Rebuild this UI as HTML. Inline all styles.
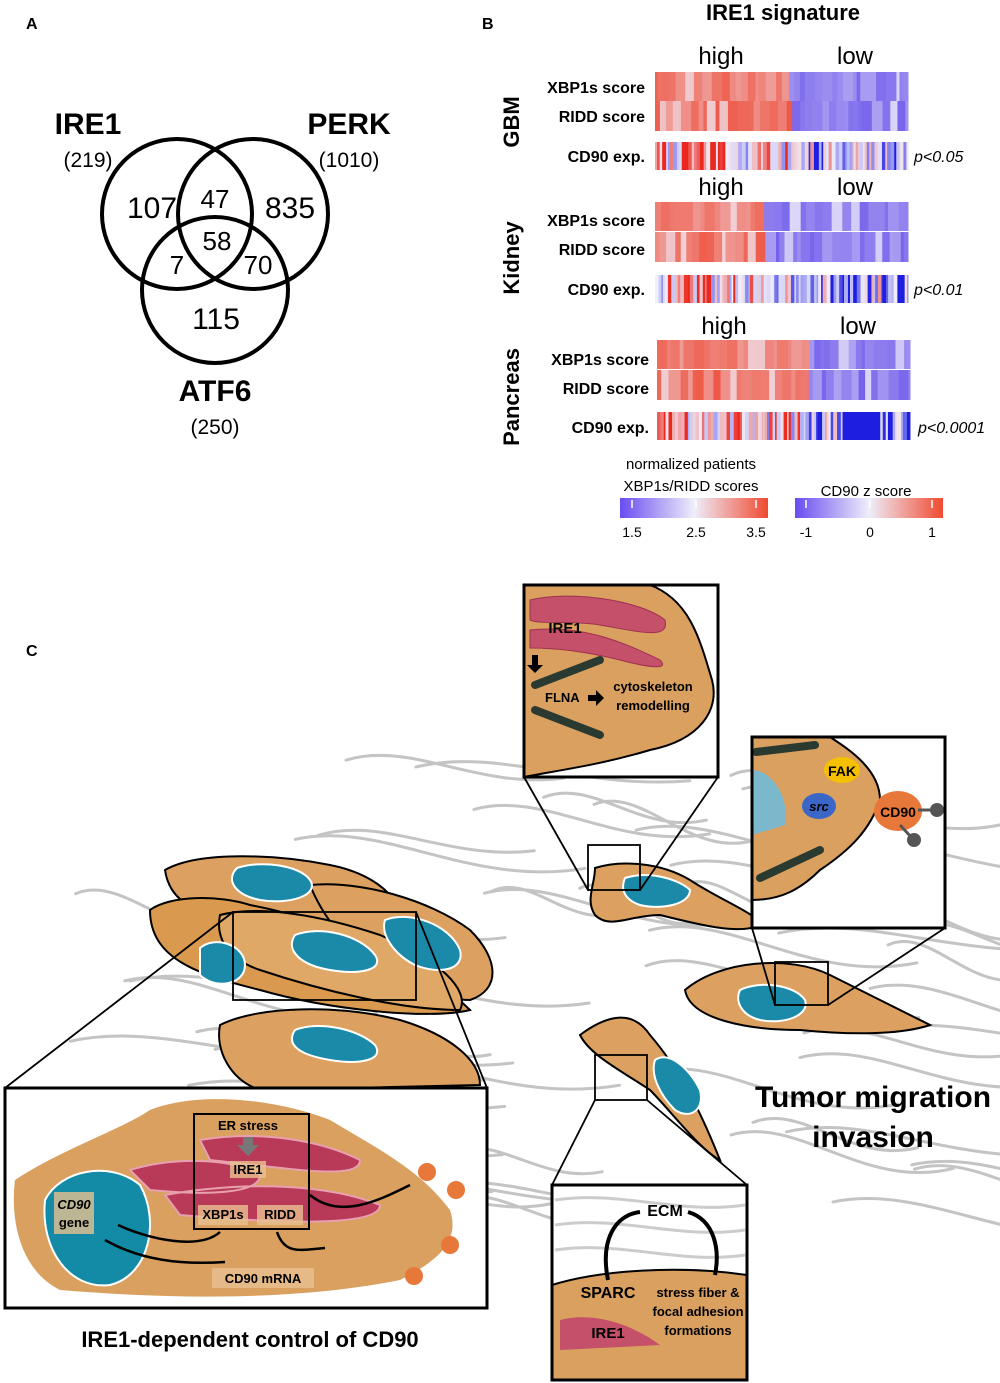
<!DOCTYPE html>
<html><head><meta charset="utf-8"><style>
html,body{margin:0;padding:0;background:#fff}
svg{display:block}
text{font-family:"Liberation Sans",sans-serif}
</style></head><body>
<svg id="s" width="1000" height="1383" viewBox="0 0 1000 1383" xmlns="http://www.w3.org/2000/svg">
<defs>
<linearGradient id="g1" x1="0" x2="1"><stop offset="0" stop-color="#6a4cf0"/><stop offset="0.5" stop-color="#eeeefa"/><stop offset="1" stop-color="#f04a30"/></linearGradient>
</defs>
<g id="fib" stroke="#c4c4c4" stroke-width="3" fill="none" stroke-linecap="round"></g>
<!-- Panel A -->
<text x="26" y="29" font-size="16" font-weight="bold">A</text>
<g fill="none" stroke="#000" stroke-width="4">
<circle cx="177" cy="214" r="75"/><circle cx="253" cy="214" r="75"/><circle cx="215" cy="290" r="73"/>
</g>
<g font-size="30" text-anchor="middle">
<text x="88" y="134" font-weight="bold">IRE1</text>
<text x="349" y="134" font-weight="bold">PERK</text>
<text x="215" y="401" font-weight="bold">ATF6</text>
<text x="152" y="218">107</text><text x="290" y="218">835</text><text x="216" y="329">115</text>
<text x="215" y="208" font-size="26">47</text><text x="217" y="250" font-size="26">58</text>
<text x="177" y="274" font-size="26">7</text><text x="258" y="274" font-size="26">70</text>
</g>
<g font-size="21" text-anchor="middle">
<text x="88" y="167">(219)</text><text x="349" y="167">(1010)</text><text x="215" y="434">(250)</text>
</g>
<!-- Panel B -->
<text x="482" y="29" font-size="16" font-weight="bold">B</text>
<text x="783" y="20" font-size="22" font-weight="bold" text-anchor="middle">IRE1 signature</text>
<g id="hm"></g>
<g font-size="24" text-anchor="middle">
<text x="721" y="64">high</text><text x="855" y="64">low</text>
<text x="721" y="195">high</text><text x="855" y="195">low</text>
<text x="724" y="334">high</text><text x="858" y="334">low</text>
</g>
<g font-size="16" font-weight="bold" text-anchor="end">
<text x="645" y="93">XBP1s score</text><text x="645" y="122">RIDD score</text><text x="645" y="162">CD90 exp.</text>
<text x="645" y="226">XBP1s score</text><text x="645" y="255">RIDD score</text><text x="645" y="295">CD90 exp.</text>
<text x="649" y="365">XBP1s score</text><text x="649" y="394">RIDD score</text><text x="649" y="433">CD90 exp.</text>
</g>
<g font-size="22" font-weight="bold" text-anchor="middle">
<text transform="translate(519,122) rotate(-90)">GBM</text>
<text transform="translate(519,258) rotate(-90)">Kidney</text>
<text transform="translate(519,397) rotate(-90)">Pancreas</text>
</g>
<g font-size="16" font-style="italic">
<text x="914" y="162">p&lt;0.05</text><text x="914" y="295">p&lt;0.01</text><text x="918" y="433">p&lt;0.0001</text>
</g>
<g font-size="15" text-anchor="middle">
<text x="691" y="469">normalized patients</text><text x="691" y="491">XBP1s/RIDD scores</text>
<text x="866" y="496">CD90 z score</text>
<text x="632" y="537" font-size="14">1.5</text><text x="696" y="537" font-size="14">2.5</text><text x="756" y="537" font-size="14">3.5</text>
<text x="806" y="537" font-size="14">-1</text><text x="870" y="537" font-size="14">0</text><text x="932" y="537" font-size="14">1</text>
</g>
<rect x="620" y="498" width="148" height="20" fill="url(#g1)"/>
<rect x="795" y="498" width="148" height="20" fill="url(#g1)"/>
<g stroke="#fff" stroke-width="1.5">
<line x1="632" y1="500" x2="632" y2="508"/><line x1="696" y1="500" x2="696" y2="508"/><line x1="756" y1="500" x2="756" y2="508"/>
<line x1="806" y1="500" x2="806" y2="508"/><line x1="870" y1="500" x2="870" y2="508"/><line x1="932" y1="500" x2="932" y2="508"/>
</g>
<!-- Panel C -->
<text x="26" y="656" font-size="16" font-weight="bold">C</text>
<g id="cells" stroke="#000" stroke-width="2">
<path d="M165,870 C200,850 280,855 330,865 C380,875 400,900 410,930 L250,920 C200,915 170,905 165,870Z" fill="#dca160"/>
<path d="M150,910 C170,895 220,895 250,905 C330,920 420,960 470,1010 C430,1020 330,1010 260,990 C200,975 150,960 150,910Z" fill="#d9994f"/>
<path d="M310,885 C360,880 430,900 470,930 C500,960 500,990 470,1000 C420,1000 340,960 310,885Z" fill="#dca160"/>
<path d="M220,915 C260,905 320,915 380,935 C440,960 470,990 460,1010 C400,1010 320,990 260,970 C230,960 215,940 220,915Z" fill="#e0a866"/>
<path d="M220,1025 C260,1005 340,1005 400,1020 C450,1035 480,1060 480,1085 L260,1090 C230,1080 215,1050 220,1025Z" fill="#dca160"/>
<path d="M595,868 C620,860 660,862 690,880 C720,900 760,915 760,925 C740,935 700,925 660,915 C630,915 610,930 595,915 C585,900 595,885 595,868Z" fill="#dca160"/>
<path d="M685,990 C720,960 790,955 830,975 C860,990 900,1010 930,1025 C900,1035 850,1035 800,1030 C750,1030 690,1020 685,990Z" fill="#dca160"/>
<path d="M580,1035 C600,1020 630,1005 650,1035 C680,1070 700,1110 720,1160 C700,1150 670,1110 650,1090 C620,1070 590,1055 580,1035Z" fill="#dca160"/>
</g>
<g fill="#1a8aa8" stroke="#fff" stroke-width="2">
<path d="M237,868 C260,860 300,865 310,880 C320,895 290,905 260,900 C235,895 225,880 237,868Z"/>
<path d="M200,948 C215,935 245,945 245,965 C245,985 215,990 200,975Z"/>
<path d="M295,935 C320,925 360,935 375,955 C385,970 360,975 330,970 C300,965 285,950 295,935Z"/>
<path d="M385,920 C410,910 450,925 460,950 C465,970 440,975 415,965 C395,955 380,935 385,920Z"/>
<path d="M295,1030 C320,1020 360,1030 375,1045 C385,1060 360,1065 330,1060 C300,1055 285,1045 295,1030Z"/>
<path d="M625,878 C650,870 680,880 690,890 C690,905 660,910 640,905 C625,900 620,890 625,878Z"/>
<path d="M740,990 C760,980 795,985 805,1000 C810,1015 785,1025 760,1020 C740,1015 735,1000 740,990Z"/>
<path d="M655,1060 C670,1050 690,1070 700,1090 C705,1110 690,1120 675,1110 C660,1095 650,1075 655,1060Z"/>
</g>
<g fill="none" stroke="#000" stroke-width="1.8">
<rect x="233" y="912" width="183" height="88"/><rect x="588" y="845" width="52" height="45"/>
<rect x="775" y="962" width="53" height="43"/><rect x="595" y="1055" width="52" height="45"/>
<line x1="233" y1="912" x2="5" y2="1088"/><line x1="416" y1="912" x2="487" y2="1088"/>
<line x1="588" y1="890" x2="524" y2="777"/><line x1="640" y1="890" x2="718" y2="777"/>
<line x1="775" y1="1005" x2="752" y2="928"/><line x1="828" y1="1005" x2="945" y2="928"/>
<line x1="595" y1="1100" x2="552" y2="1185"/><line x1="647" y1="1100" x2="747" y2="1185"/>
</g>
<rect x="524" y="585" width="194" height="192" fill="#fff"/>
<path d="M524,585 L650,585 C690,600 700,640 712,680 C720,710 700,740 650,750 C600,765 560,770 524,777Z" fill="#d9a060" stroke="#000" stroke-width="2"/>
<path d="M530,600 C570,590 640,600 665,620 C670,640 640,632 600,625 C570,620 540,625 530,620Z" fill="#c4506a" stroke="#a03050"/>
<path d="M530,630 C580,625 620,640 660,660 C670,670 650,668 620,660 C580,650 550,648 530,648Z" fill="#c4506a" stroke="#a03050"/>
<g stroke="#2a3a30" stroke-width="8" stroke-linecap="round"><line x1="535" y1="685" x2="600" y2="660"/><line x1="535" y1="710" x2="600" y2="735"/></g>
<text x="565" y="633" font-size="15" font-weight="bold" text-anchor="middle">IRE1</text>
<text x="545" y="702" font-size="13" font-weight="bold">FLNA</text>
<text x="653" y="691" font-size="13" font-weight="bold" text-anchor="middle">cytoskeleton</text>
<text x="653" y="710" font-size="13" font-weight="bold" text-anchor="middle">remodelling</text>
<path d="M588,695 h8 v-5 l8,8 l-8,8 v-5 h-8z M532,655 v10 h-5 l8,8 l8,-8 h-5 v-10z" fill="#000"/>
<rect x="524" y="585" width="194" height="192" fill="none" stroke="#000" stroke-width="3"/>
<rect x="752" y="737" width="193" height="191" fill="#fff"/>
<path d="M752,737 L830,737 C850,750 880,770 880,800 C870,830 850,850 820,870 C800,890 780,900 752,900Z" fill="#d9a060" stroke="#000" stroke-width="2"/>
<path d="M752,770 C770,770 790,795 785,825 L752,835Z" fill="#7cb8cc"/>
<g stroke="#2a3a30" stroke-width="8" stroke-linecap="round"><line x1="756" y1="752" x2="815" y2="745"/><line x1="760" y1="878" x2="820" y2="850"/></g>
<ellipse cx="842" cy="770" rx="18" ry="13" fill="#f5c000"/><text x="842" y="776" font-size="14" font-weight="bold" text-anchor="middle">FAK</text>
<ellipse cx="819" cy="806" rx="17" ry="13" fill="#3a66c8"/><text x="819" y="811" font-size="13" font-weight="bold" font-style="italic" text-anchor="middle">src</text>
<ellipse cx="898" cy="811" rx="24" ry="20" fill="#e8783a"/><text x="898" y="817" font-size="14" font-weight="bold" text-anchor="middle">CD90</text>
<g stroke="#555" stroke-width="3"><line x1="918" y1="810" x2="935" y2="810"/><line x1="900" y1="825" x2="912" y2="838"/></g>
<circle cx="937" cy="810" r="7" fill="#555"/><circle cx="914" cy="840" r="7" fill="#555"/>
<rect x="752" y="737" width="193" height="191" fill="none" stroke="#000" stroke-width="3"/>
<rect x="552" y="1185" width="195" height="195" fill="#fff"/>
<g stroke="#ccc" stroke-width="3" fill="none"><path d="M555,1200 C620,1190 680,1215 745,1205"/><path d="M555,1225 C620,1215 680,1240 745,1230"/><path d="M555,1250 C620,1240 680,1265 745,1255"/></g>
<path d="M552,1285 C600,1270 680,1265 747,1275 L747,1380 L552,1380Z" fill="#d9a060" stroke="#000" stroke-width="2"/>
<path d="M560,1320 C600,1310 640,1330 660,1345 L560,1350Z" fill="#c4506a"/>
<text x="665" y="1216" font-size="16" font-weight="bold" text-anchor="middle">ECM</text>
<text x="608" y="1298" font-size="16" font-weight="bold" text-anchor="middle">SPARC</text>
<text x="608" y="1338" font-size="15" font-weight="bold" text-anchor="middle">IRE1</text>
<text x="698" y="1297" font-size="13" font-weight="bold" text-anchor="middle">stress fiber &amp;</text>
<text x="698" y="1316" font-size="13" font-weight="bold" text-anchor="middle">focal adhesion</text>
<text x="698" y="1335" font-size="13" font-weight="bold" text-anchor="middle">formations</text>
<path d="M608,1280 C600,1240 615,1215 640,1212 M688,1212 C715,1220 720,1250 715,1275" fill="none" stroke="#000" stroke-width="4"/>
<rect x="552" y="1185" width="195" height="195" fill="none" stroke="#000" stroke-width="3"/>
<rect x="5" y="1088" width="482" height="220" fill="#fff"/>
<path d="M15,1180 C60,1150 120,1130 150,1110 C200,1090 280,1100 330,1120 C380,1150 420,1170 450,1210 C460,1240 440,1260 400,1280 C300,1300 180,1300 60,1290 C20,1270 10,1220 15,1180Z" fill="#d9a060"/>
<path d="M45,1200 C60,1170 110,1160 140,1185 C160,1220 150,1275 110,1285 C70,1290 40,1250 45,1200Z" fill="#138aa6" stroke="#fff" stroke-width="2"/>
<path d="M130,1170 C180,1155 240,1160 260,1175 C260,1195 200,1195 150,1190Z M165,1195 C250,1180 330,1185 380,1205 C380,1225 300,1225 180,1215Z M200,1140 C260,1130 320,1140 360,1160 C360,1180 300,1170 210,1160Z" fill="#b83a58" stroke="#e8a0b0" stroke-width="2"/>
<rect x="54" y="1192" width="40" height="42" fill="#e8c090" opacity="0.8"/>
<text x="74" y="1209" font-size="13" font-weight="bold" font-style="italic" text-anchor="middle">CD90</text>
<text x="74" y="1227" font-size="13" font-weight="bold" text-anchor="middle">gene</text>
<rect x="194" y="1114" width="115" height="115" fill="none" stroke="#000" stroke-width="2"/>
<text x="248" y="1130" font-size="13" font-weight="bold" text-anchor="middle">ER stress</text>
<path d="M243,1137 h10 v8 h6 l-11,11 l-11,-11 h6z" fill="#777"/>
<rect x="230" y="1161" width="36" height="17" fill="#e8c090" opacity="0.8"/>
<text x="248" y="1174" font-size="13" font-weight="bold" text-anchor="middle">IRE1</text>
<rect x="198" y="1205" width="50" height="20" fill="#e8c090" opacity="0.8"/><text x="223" y="1219" font-size="13" font-weight="bold" text-anchor="middle">XBP1s</text>
<rect x="257" y="1205" width="46" height="20" fill="#e8c090" opacity="0.8"/><text x="280" y="1219" font-size="13" font-weight="bold" text-anchor="middle">RIDD</text>
<rect x="212" y="1268" width="102" height="20" fill="#e8c090" opacity="0.8"/><text x="263" y="1283" font-size="13" font-weight="bold" text-anchor="middle">CD90 mRNA</text>
<g fill="none" stroke="#000" stroke-width="2.5">
<path d="M220,1232 C200,1250 150,1240 118,1225"/><path d="M105,1240 C140,1260 180,1265 225,1262"/>
<path d="M277,1232 C285,1255 300,1250 325,1248"/><path d="M310,1195 C340,1220 380,1200 410,1185"/>
</g>
<g fill="#e8783a"><circle cx="427" cy="1172" r="9"/><circle cx="456" cy="1190" r="9"/><circle cx="450" cy="1245" r="9"/><circle cx="414" cy="1276" r="9"/></g>
<rect x="5" y="1088" width="482" height="220" fill="none" stroke="#000" stroke-width="3"/>
<text x="873" y="1107" font-size="30" font-weight="bold" text-anchor="middle">Tumor migration</text>
<text x="873" y="1147" font-size="30" font-weight="bold" text-anchor="middle">invasion</text>
<text x="250" y="1347" font-size="22" font-weight="bold" text-anchor="middle">IRE1-dependent control of CD90</text>
</svg>
<script>
var seed=7;function r(){seed=(seed*16807)%2147483647;return (seed-1)/2147483646;}
var NS="http://www.w3.org/2000/svg";
function lerp(a,b,t){return Math.round(a+(b-a)*t);}
function col(v,cd){
 var c1=cd?[30,30,225]:[110,90,235],c0=[240,238,250],c2=cd?[235,40,30]:[238,80,60];
 if(v<0){var t=-v;return "rgb("+lerp(c0[0],c1[0],t)+","+lerp(c0[1],c1[1],t)+","+lerp(c0[2],c1[2],t)+")";}
 return "rgb("+lerp(c0[0],c2[0],v)+","+lerp(c0[1],c2[1],v)+","+lerp(c0[2],c2[2],v)+")";}
var hm=document.getElementById("hm");
function row(x0,x1,split,y,h,bias,cd,block){
 var x=x0;while(x<x1){var sw=cd?1.5+r()*2.5:3+r()*8;var hi=x<split;
  var v;
  if(cd){v=(r()*2-1)+(hi?0.45:-0.45);if(r()<0.25)v=v*0.3;if(block&&x>block[0]&&x<block[1])v=-1;}
  else{v=hi?bias*(0.55+r()*0.45):-bias*(0.55+r()*0.45);if(r()<0.12)v=v*0.3;}
  v=Math.max(-1,Math.min(1,v));
  var e=document.createElementNS(NS,"rect");e.setAttribute("x",x);e.setAttribute("y",y);e.setAttribute("width",Math.min(sw,x1-x)+0.5);e.setAttribute("height",h);e.setAttribute("fill",col(v,cd));hm.appendChild(e);x+=sw;}
}
var B=[[655,908,788,72,101,142,null],[655,908,762,202,232,275,null],[657,910,808,340,370,412,[842,880]]];
B.forEach(function(b){row(b[0],b[1],b[2],b[3],29,0.9);row(b[0],b[1],b[2],b[4],30,0.95);row(b[0],b[1],b[2],b[5],28,1,true,b[6]);});
var fib=document.getElementById("fib");
for(var i=0;i<60;i++){var x=r()*950,y=760+r()*460,L=120+r()*200;
 var p=document.createElementNS(NS,"path");
 var dy=20+r()*40;
 p.setAttribute("d","M"+x+","+y+" C"+(x+L*0.3)+","+(y-20)+" "+(x+L*0.6)+","+(y+dy)+" "+(x+L)+","+(y+dy*0.6));fib.appendChild(p);}
</script>
</body></html>
